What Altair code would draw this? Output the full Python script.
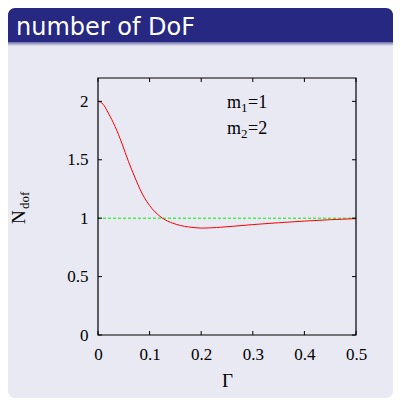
import altair as alt
import pandas as pd

# ---- data ----
gamma = [0.0, 0.01, 0.02, 0.033, 0.046, 0.059, 0.072, 0.085, 0.095, 0.105, 0.115,
         0.125, 0.135, 0.145, 0.16, 0.175, 0.19, 0.2, 0.23, 0.26, 0.30, 0.35,
         0.40, 0.45, 0.5]
ndof = [2.0, 1.975, 1.90, 1.786, 1.644, 1.486, 1.344, 1.215, 1.14, 1.08, 1.035,
        1.0, 0.975, 0.957, 0.937, 0.925, 0.918, 0.915, 0.920, 0.930, 0.945, 0.961,
        0.975, 0.987, 0.996]
ref_x = [0.0, 0.5]
ref_y = [1.0, 1.0]
x_ticks = [0, 0.1, 0.2, 0.3, 0.4, 0.5]
y_ticks = [0, 0.5, 1, 1.5, 2]
slide_title = "number of DoF"
x_title = "Γ"

W, H = 258, 257
SERIF = "Liberation Serif"

curve = pd.DataFrame({"g": gamma, "n": ndof})
ref = pd.DataFrame({"g": ref_x, "n": ref_y})
xt = pd.DataFrame({"v": x_ticks})
yt = pd.DataFrame({"v": y_ticks})
one = pd.DataFrame({"a": [0]})

xs = alt.Scale(domain=[0, 0.5], nice=False, zero=False)
ys = alt.Scale(domain=[0, 2.2], nice=False, zero=False)

# slide background pieces
bar = alt.Chart(one).mark_rect(color="#262882", cornerRadiusTopLeft=7, cornerRadiusTopRight=7).encode(
    x=alt.value(-90), x2=alt.value(295), y=alt.value(-70), y2=alt.value(-36))
shadow = alt.Chart(one).mark_rect(
    color=alt.Gradient(gradient="linear", x1=0, y1=0, x2=0, y2=1,
                       stops=[alt.GradientStop(color="#6b6ca8", offset=0),
                              alt.GradientStop(color="#e9e9f3", offset=1)])).encode(
    x=alt.value(-90), x2=alt.value(295), y=alt.value(-36), y2=alt.value(-32))
body = alt.Chart(one).mark_rect(color="#e9e9f3", cornerRadiusBottomLeft=7, cornerRadiusBottomRight=7).encode(
    x=alt.value(-90), x2=alt.value(295), y=alt.value(-32), y2=alt.value(320))
title_txt = alt.Chart(one).mark_text(text=slide_title, font="DejaVu Sans", fontSize=24, color="white",
                                     align="left", baseline="alphabetic").encode(
    x=alt.value(-82), y=alt.value(-43))

# axes (labels only), drawn above the background
axes = alt.Chart(curve).mark_line(opacity=0).encode(
    x=alt.X("g:Q", scale=xs, axis=alt.Axis(values=x_ticks, format="~g", title=x_title,
                                           titleFont=SERIF, titleFontSize=19, titleFontWeight="normal",
                                           titleColor="black", titlePadding=9,
                                           labelFont=SERIF, labelFontSize=17, labelColor="black",
                                           labelPadding=11, ticks=False, domain=False, grid=False,
                                           labelFlush=False, zindex=1)),
    y=alt.Y("n:Q", scale=ys, axis=alt.Axis(values=y_ticks, format="~g", title=None,
                                           labelFont=SERIF, labelFontSize=17, labelColor="black",
                                           labelPadding=10, ticks=False, domain=False, grid=False,
                                           labelFlush=False, zindex=1)),
)

# plot frame
frame = alt.Chart(one).mark_rect(filled=False, stroke="black", strokeWidth=1.2).encode(
    x=alt.value(0), x2=alt.value(W), y=alt.value(0), y2=alt.value(H))

# inward ticks on four sides
tb = alt.Chart(xt).mark_rule(color="black", strokeWidth=1).encode(
    x=alt.X("v:Q", scale=xs), y=alt.value(H), y2=alt.value(H - 4))
tt = alt.Chart(xt).mark_rule(color="black", strokeWidth=1).encode(
    x=alt.X("v:Q", scale=xs), y=alt.value(0), y2=alt.value(4))
tl = alt.Chart(yt).mark_rule(color="black", strokeWidth=1).encode(
    y=alt.Y("v:Q", scale=ys), x=alt.value(0), x2=alt.value(4))
tr = alt.Chart(yt).mark_rule(color="black", strokeWidth=1).encode(
    y=alt.Y("v:Q", scale=ys), x=alt.value(W), x2=alt.value(W - 4))

green = alt.Chart(ref).mark_line(color="#00ee00", strokeWidth=1, strokeDash=[3, 2]).encode(
    x=alt.X("g:Q", scale=xs), y=alt.Y("n:Q", scale=ys))
red = alt.Chart(curve).mark_line(color="#ff0000", strokeWidth=1, interpolate="monotone").encode(
    x=alt.X("g:Q", scale=xs), y=alt.Y("n:Q", scale=ys))

# y title N_dof (rotated)
yN = alt.Chart(one).mark_text(text="N", font=SERIF, fontSize=19, color="black", angle=270,
                              align="left", baseline="alphabetic").encode(
    x=alt.value(-73), y=alt.value(146))
ydof = alt.Chart(one).mark_text(text="dof", font=SERIF, fontSize=13, color="black", angle=270,
                                align="left", baseline="alphabetic").encode(
    x=alt.value(-69), y=alt.value(131))

# m1=1, m2=2 annotations
def label(sub, val, base):
    m = alt.Chart(one).mark_text(text="m", font=SERIF, fontSize=18, color="black",
                                 align="left", baseline="alphabetic").encode(
        x=alt.value(129), y=alt.value(base))
    s = alt.Chart(one).mark_text(text=sub, font=SERIF, fontSize=13, color="black",
                                 align="left", baseline="alphabetic").encode(
        x=alt.value(143), y=alt.value(base + 4))
    e = alt.Chart(one).mark_text(text="=" + val, font=SERIF, fontSize=18, color="black",
                                 align="left", baseline="alphabetic").encode(
        x=alt.value(150), y=alt.value(base))
    return [m, s, e]

labels = label("1", "1", 30) + label("2", "2", 56)

chart = alt.layer(bar, shadow, body, title_txt, axes, green, red, frame, tb, tt, tl, tr,
                  yN, ydof, *labels).properties(
    width=W, height=H,
    autosize=alt.AutoSizeParams(type="none"),
    padding={"left": 90, "top": 70, "right": 37, "bottom": 63},
    background="white",
).configure_view(stroke=None)

chart.save("out.html", embed_options={"renderer": "svg", "actions": False})
